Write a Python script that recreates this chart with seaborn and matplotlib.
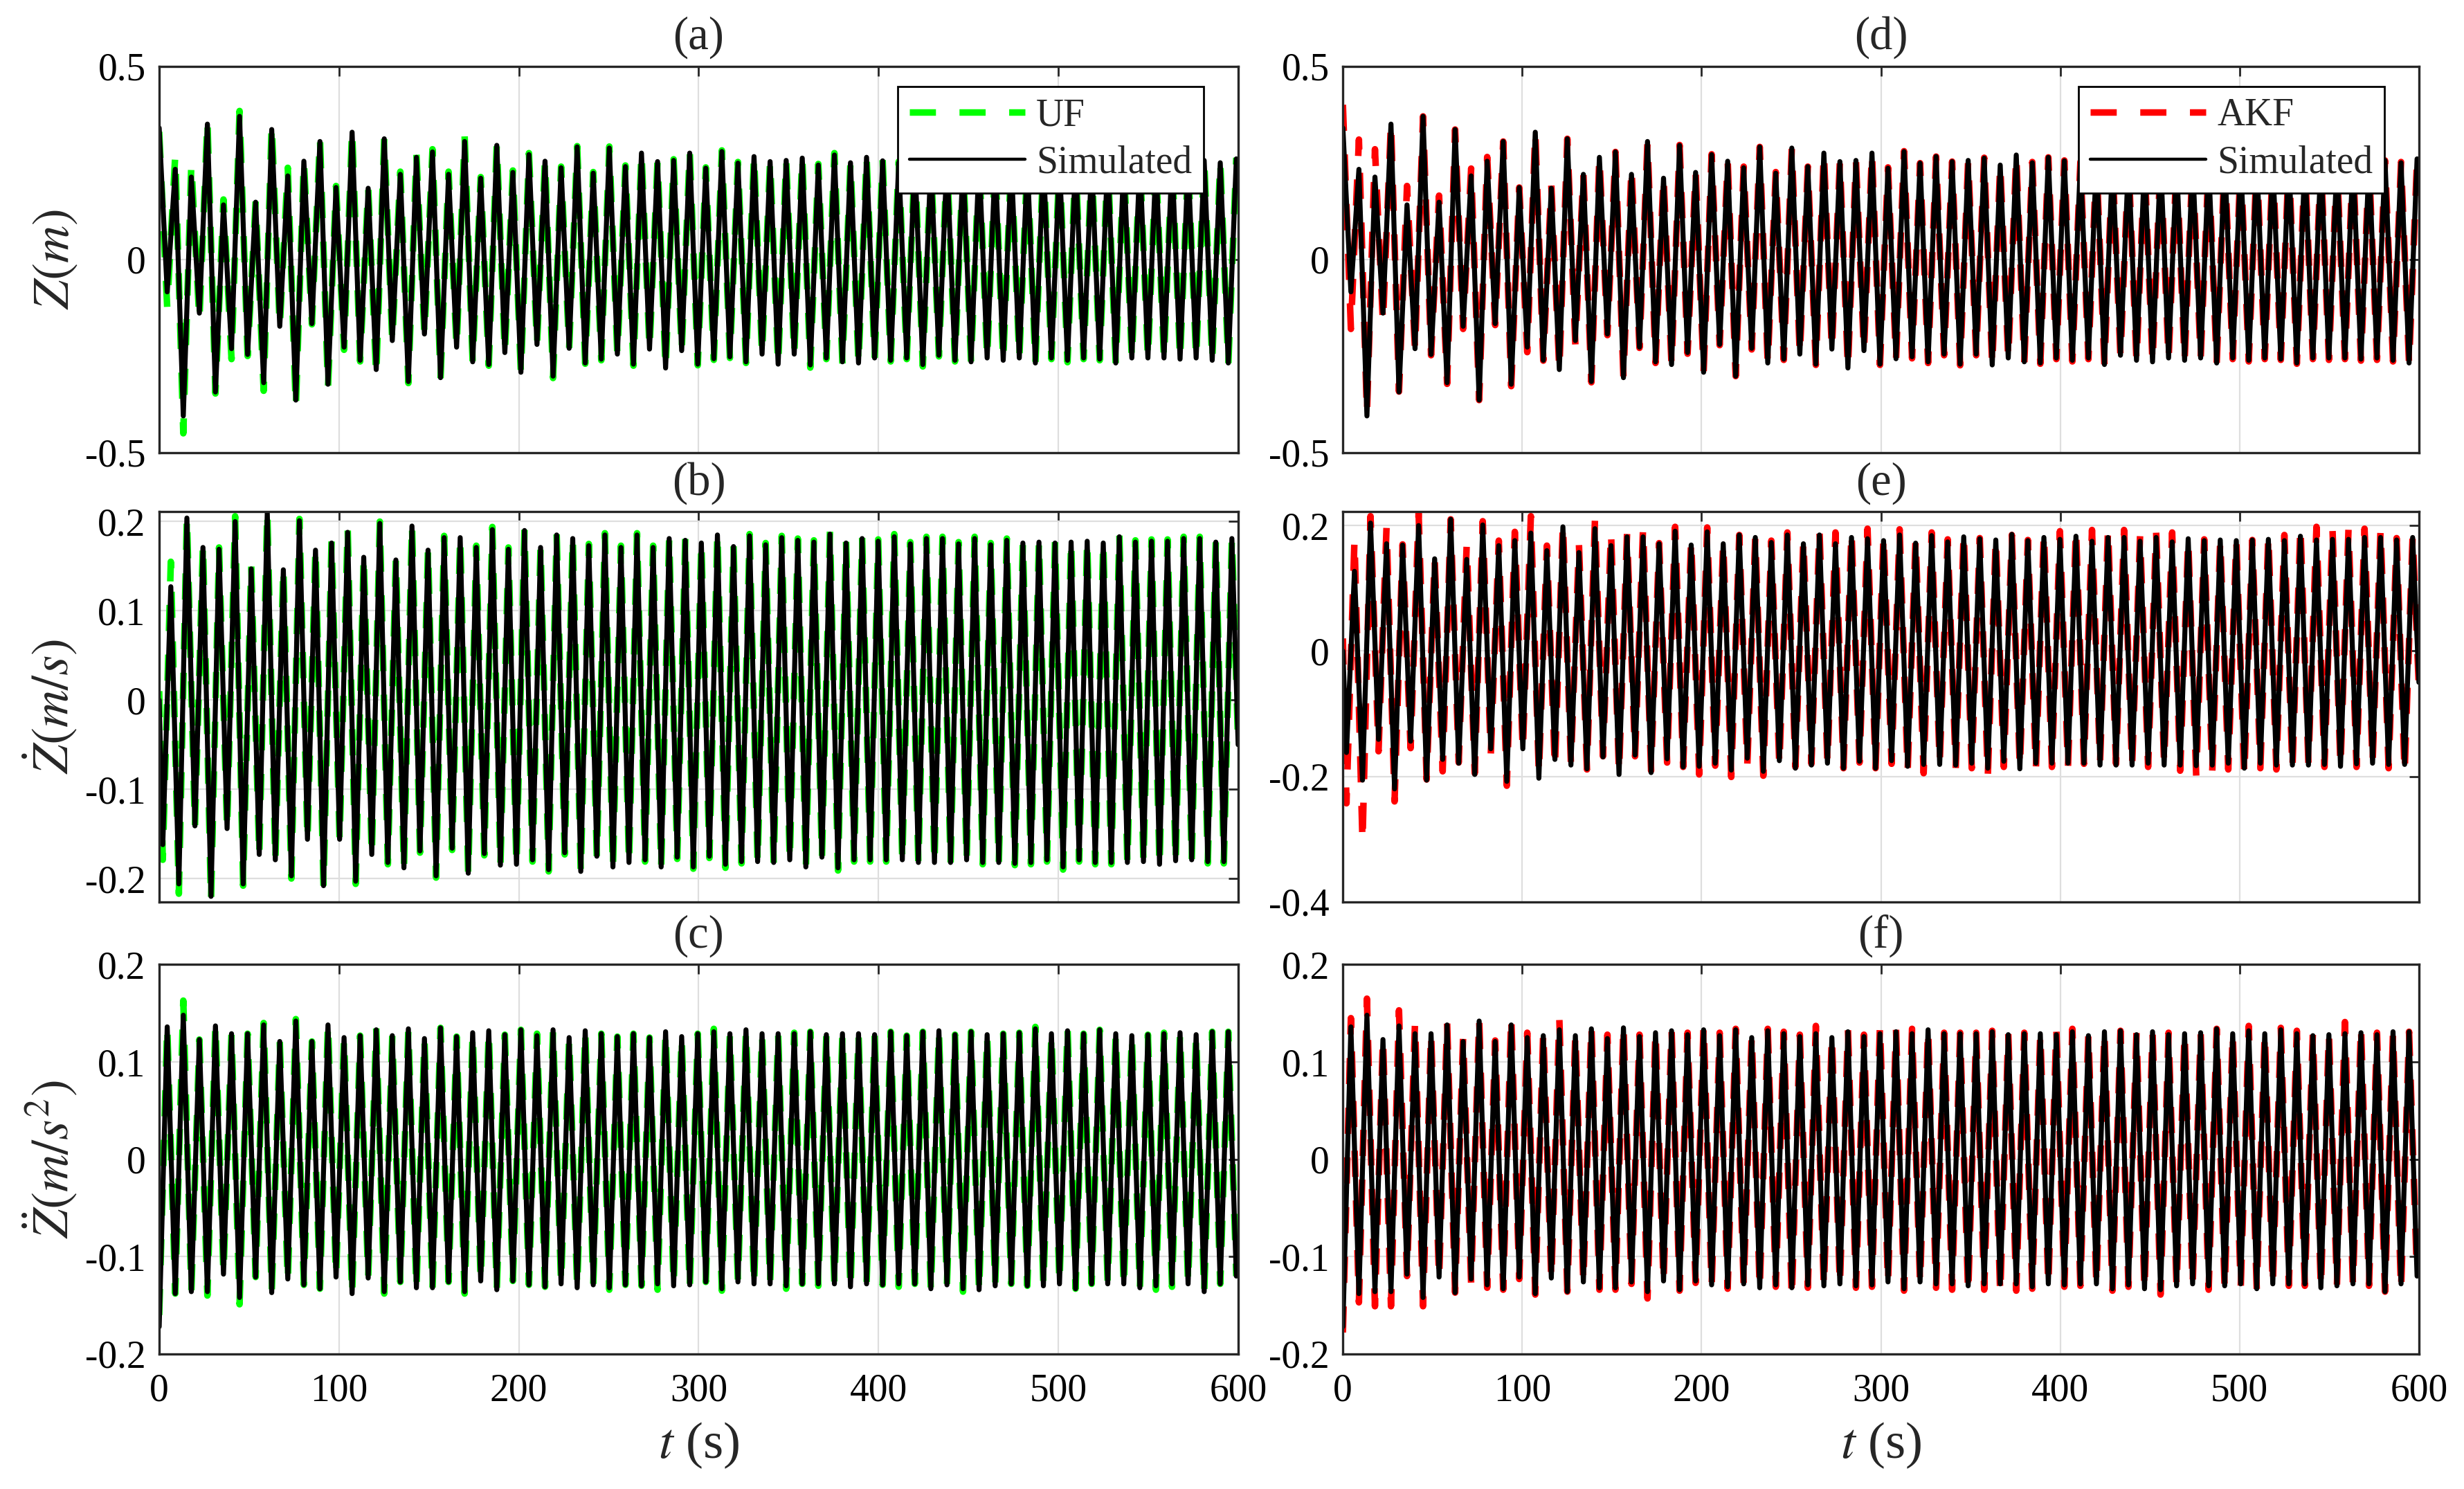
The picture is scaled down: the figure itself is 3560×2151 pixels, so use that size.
import numpy as np
import matplotlib
matplotlib.use("Agg")
import matplotlib.pyplot as plt
from matplotlib.lines import Line2D
from matplotlib.ticker import FuncFormatter
import seaborn as sns

sns.set_style("white")
plt.rcParams["font.family"] = ["Liberation Serif", "DejaVu Serif"]
plt.rcParams["mathtext.fontset"] = "stix"
plt.rcParams["axes.unicode_minus"] = False

# half period of the heave response (s); values below are the successive
# peaks / troughs
HALF = 4.47
VEL_FIRST = 2.0   # time of the first velocity extremum
T_END = 600.0

# heave displacement Z (m), extrema from t = 0
z_sim = [
    0.34, -0.084, 0.233, -0.405, 0.213, -0.139, 0.35, -0.343, 0.141, -0.231,
    0.37, -0.246, 0.148, -0.319, 0.336, -0.173, 0.216, -0.364, 0.254, -0.166,
    0.305, -0.323, 0.186, -0.227, 0.329, -0.261, 0.184, -0.285, 0.312, -0.21,
    0.22, -0.316, 0.264, -0.193, 0.278, -0.306, 0.22, -0.227, 0.305, -0.265,
    0.21, -0.272, 0.295, -0.241, 0.225, -0.292, 0.271, -0.22, 0.254, -0.302,
    0.237, -0.23, 0.291, -0.268, 0.223, -0.258, 0.288, -0.245, 0.24, -0.271,
    0.275, -0.232, 0.253, -0.281, 0.256, -0.236, 0.275, -0.271, 0.236, -0.257,
    0.279, -0.252, 0.249, -0.265, 0.266, -0.245, 0.253, -0.271, 0.256, -0.245,
    0.262, -0.273, 0.244, -0.255, 0.27, -0.265, 0.25, -0.268, 0.264, -0.255,
    0.255, -0.261, 0.25, -0.255, 0.26, -0.272, 0.252, -0.248, 0.258, -0.261,
    0.25, -0.265, 0.26, -0.255, 0.252, -0.261, 0.256, -0.255, 0.25, -0.268,
    0.26, -0.255, 0.252, -0.261, 0.256, -0.255, 0.25, -0.258, 0.26, -0.268,
    0.252, -0.255, 0.256, -0.255, 0.25, -0.255, 0.258, -0.258, 0.25, -0.255,
    0.256, -0.261, 0.25, -0.268, 0.26,
]
z_uf = [
    0.33, -0.125, 0.27, -0.45, 0.247, -0.159, 0.36, -0.347, 0.155, -0.258,
    0.384, -0.25, 0.15, -0.34, 0.35, -0.176, 0.237, -0.384, 0.256, -0.168,
    0.315, -0.333, 0.19, -0.234, 0.336, -0.264, 0.187, -0.302, 0.315, -0.213,
    0.227, -0.32, 0.274, -0.196, 0.285, -0.308, 0.227, -0.23, 0.319, -0.268,
    0.213, -0.275, 0.3, -0.244, 0.23, -0.295, 0.275, -0.222, 0.258, -0.307,
    0.24, -0.232, 0.293, -0.27, 0.226, -0.261, 0.292, -0.248, 0.243, -0.275,
    0.278, -0.234, 0.256, -0.284, 0.259, -0.238, 0.282, -0.274, 0.238, -0.26,
    0.282, -0.255, 0.252, -0.268, 0.269, -0.248, 0.256, -0.274, 0.259, -0.248,
    0.265, -0.28, 0.247, -0.258, 0.275, -0.27, 0.253, -0.272, 0.267, -0.258,
    0.258, -0.264, 0.253, -0.258, 0.263, -0.277, 0.255, -0.251, 0.261, -0.264,
    0.253, -0.268, 0.263, -0.258, 0.255, -0.264, 0.259, -0.258, 0.253, -0.272,
    0.263, -0.258, 0.255, -0.266, 0.259, -0.258, 0.253, -0.261, 0.263, -0.272,
    0.255, -0.258, 0.259, -0.258, 0.253, -0.258, 0.261, -0.261, 0.253, -0.258,
    0.259, -0.264, 0.253, -0.273, 0.263,
]
z_akf = [
    0.40, -0.18, 0.31, -0.40, 0.285, -0.165, 0.355, -0.342, 0.19, -0.235,
    0.37, -0.248, 0.165, -0.322, 0.336, -0.18, 0.235, -0.364, 0.265, -0.17,
    0.305, -0.328, 0.186, -0.24, 0.33, -0.262, 0.192, -0.287, 0.312, -0.22,
    0.222, -0.318, 0.266, -0.196, 0.278, -0.306, 0.238, -0.229, 0.305, -0.268,
    0.215, -0.274, 0.296, -0.244, 0.228, -0.292, 0.272, -0.222, 0.256, -0.302,
    0.24, -0.233, 0.291, -0.27, 0.226, -0.26, 0.288, -0.248, 0.24, -0.273,
    0.276, -0.235, 0.255, -0.283, 0.256, -0.239, 0.276, -0.273, 0.238, -0.26,
    0.28, -0.256, 0.249, -0.268, 0.266, -0.248, 0.253, -0.274, 0.257, -0.248,
    0.263, -0.276, 0.246, -0.258, 0.27, -0.268, 0.252, -0.27, 0.264, -0.258,
    0.256, -0.264, 0.252, -0.258, 0.26, -0.274, 0.254, -0.252, 0.258, -0.264,
    0.252, -0.268, 0.26, -0.26, 0.254, -0.264, 0.256, -0.258, 0.252, -0.27,
    0.26, -0.258, 0.254, -0.264, 0.256, -0.258, 0.252, -0.26, 0.26, -0.27,
    0.254, -0.258, 0.256, -0.26, 0.252, -0.258, 0.258, -0.262, 0.252, -0.26,
    0.256, -0.264, 0.252, -0.272, 0.26,
]

# heave velocity (m/s): value at t = 0, extrema from VEL_FIRST, value at 600 s
v_sim = [
    0.0,
    -0.162, 0.127, -0.206, 0.204, -0.141, 0.171, -0.22, 0.169, -0.144, 0.2,
    -0.206, 0.147, -0.173, 0.21, -0.179, 0.146, -0.197, 0.201, -0.156, 0.168,
    -0.208, 0.176, -0.156, 0.188, -0.203, 0.16, -0.173, 0.198, -0.182, 0.157,
    -0.188, 0.195, -0.169, 0.168, -0.197, 0.182, -0.166, 0.182, -0.194, 0.171,
    -0.172, 0.191, -0.185, 0.169, -0.184, 0.19, -0.179, 0.171, -0.19, 0.185,
    -0.171, 0.181, -0.192, 0.173, -0.175, 0.185, -0.187, 0.171, -0.182, 0.185,
    -0.179, 0.171, -0.187, 0.181, -0.176, 0.179, -0.187, 0.176,
    -0.175, 0.185, -0.184, 0.172, -0.181, 0.184, -0.181, 0.174, -0.182, 0.182,
    -0.179, 0.179, -0.187, 0.177, -0.176, 0.186, -0.188, 0.176, -0.179, 0.181,
    -0.179, 0.178, -0.179, 0.183, -0.179, 0.175, -0.182, 0.181, -0.182, 0.181,
    -0.182, 0.175, -0.179, 0.181, -0.182, 0.174, -0.182, 0.179, -0.183, 0.176,
    -0.182, 0.177, -0.179, 0.176, -0.187, 0.177, -0.179, 0.178, -0.182, 0.176,
    -0.182, 0.183, -0.182, 0.177, -0.181, 0.178, -0.184, 0.178, -0.18, 0.181,
    -0.179, 0.181, -0.181, 0.177, -0.181, 0.181,
    -0.05,
]
v_uf = [
    0.01,
    -0.179, 0.155, -0.217, 0.206, -0.143, 0.176, -0.226, 0.171, -0.146, 0.206,
    -0.208, 0.152, -0.176, 0.212, -0.181, 0.149, -0.2, 0.203, -0.158, 0.171,
    -0.21, 0.179, -0.158, 0.194, -0.206, 0.162, -0.175, 0.2, -0.184, 0.16,
    -0.19, 0.198, -0.171, 0.17, -0.199, 0.184, -0.168, 0.184, -0.196, 0.173,
    -0.174, 0.194, -0.187, 0.171, -0.186, 0.192, -0.181, 0.173, -0.192, 0.187,
    -0.173, 0.183, -0.194, 0.175, -0.177, 0.187, -0.189, 0.173, -0.184, 0.187,
    -0.181, 0.173, -0.189, 0.183, -0.178, 0.181, -0.189, 0.178,
    -0.177, 0.188, -0.188, 0.174, -0.183, 0.186, -0.183, 0.176, -0.184, 0.184,
    -0.181, 0.181, -0.19, 0.179, -0.178, 0.189, -0.191, 0.178, -0.181, 0.183,
    -0.181, 0.18, -0.181, 0.186, -0.181, 0.177, -0.184, 0.183, -0.184, 0.183,
    -0.184, 0.177, -0.181, 0.183, -0.184, 0.176, -0.184, 0.181, -0.185, 0.178,
    -0.184, 0.179, -0.181, 0.178, -0.19, 0.179, -0.181, 0.18, -0.184, 0.178,
    -0.184, 0.187, -0.184, 0.179, -0.183, 0.18, -0.187, 0.18, -0.182, 0.183,
    -0.181, 0.183, -0.183, 0.179, -0.183, 0.183,
    -0.05,
]
v_akf = [
    0.02,
    -0.243, 0.178, -0.305, 0.215, -0.16, 0.198, -0.24, 0.17, -0.155, 0.22,
    -0.205, 0.148, -0.192, 0.21, -0.178, 0.17, -0.195, 0.207, -0.166, 0.176,
    -0.215, 0.19, -0.16, 0.215, -0.197, 0.168, -0.187, 0.204, -0.18, 0.17,
    -0.189, 0.21, -0.168, 0.19, -0.195, 0.187, -0.168, 0.197, -0.191, 0.172,
    -0.178, 0.198, -0.185, 0.178, -0.197, 0.197, -0.183, 0.174, -0.201, 0.185,
    -0.183, 0.183, -0.199, 0.176, -0.183, 0.189, -0.185, 0.178, -0.18, 0.194,
    -0.18, 0.189, -0.187, 0.191, -0.178, 0.195, -0.187, 0.185, -0.18, 0.194,
    -0.193, 0.18, -0.195, 0.189, -0.18, 0.178, -0.187, 0.189, -0.187, 0.18,
    -0.201, 0.18, -0.185, 0.185, -0.187, 0.177, -0.189, 0.189, -0.185, 0.191,
    -0.187, 0.195, -0.18, 0.193, -0.18, 0.195, -0.18, 0.193, -0.185, 0.185,
    -0.185, 0.191, -0.18, 0.189, -0.191, 0.178, -0.199, 0.178, -0.193, 0.178,
    -0.189, 0.177, -0.199, 0.177, -0.187, 0.185, -0.189, 0.185, -0.189, 0.199,
    -0.18, 0.198, -0.185, 0.195, -0.185, 0.195, -0.185, 0.195, -0.18, 0.195,
    -0.187, 0.18, -0.195, 0.185,
    -0.06,
]

# heave acceleration (m/s^2), extrema from t = 0
a_sim = [
    -0.172, 0.136, -0.138, 0.148, -0.136, 0.123, -0.136, 0.137, -0.118, 0.129,
    -0.142, 0.129, -0.121, 0.138, -0.137, 0.121, -0.123, 0.142, -0.129, 0.121,
    -0.133, 0.138, -0.121, 0.125, -0.138, 0.127, -0.122, 0.133, -0.136, 0.127,
    -0.126, 0.134, -0.132, 0.124, -0.132, 0.135, -0.126, 0.126, -0.136, 0.13,
    -0.125, 0.132, -0.134, 0.128, -0.125, 0.133, -0.129, 0.127, -0.131, 0.133,
    -0.128, 0.125, -0.132, 0.132, -0.129, 0.129, -0.132, 0.126, -0.129, 0.129,
    -0.13, 0.125, -0.128, 0.131, -0.13, 0.126, -0.129, 0.129,
    -0.126, 0.131, -0.133, 0.129, -0.126, 0.133, -0.128, 0.129, -0.128, 0.129,
    -0.13, 0.129, -0.128, 0.131, -0.128, 0.128, -0.128, 0.129, -0.131, 0.129,
    -0.128, 0.128, -0.129, 0.131, -0.128, 0.127, -0.128, 0.131, -0.133, 0.132,
    -0.129, 0.128, -0.133, 0.131, -0.134, 0.128, -0.13, 0.129, -0.128, 0.13,
    -0.13, 0.134, -0.13, 0.129, -0.128, 0.132, -0.133, 0.129, -0.128, 0.133,
    -0.128, 0.129, -0.128, 0.127, -0.132, 0.128, -0.13, 0.129, -0.128, 0.13,
    -0.128, 0.128, -0.136, 0.131, -0.128, 0.131, -0.12,
]
a_uf = [
    -0.16, 0.137, -0.138, 0.163, -0.136, 0.123, -0.14, 0.139, -0.118, 0.13,
    -0.149, 0.129, -0.121, 0.14, -0.137, 0.121, -0.126, 0.144, -0.129, 0.121,
    -0.133, 0.14, -0.121, 0.125, -0.14, 0.127, -0.122, 0.135, -0.138, 0.127,
    -0.126, 0.134, -0.134, 0.124, -0.134, 0.135, -0.126, 0.126, -0.138, 0.13,
    -0.125, 0.132, -0.134, 0.128, -0.125, 0.133, -0.129, 0.129, -0.131, 0.133,
    -0.128, 0.125, -0.132, 0.132, -0.129, 0.129, -0.134, 0.126, -0.129, 0.129,
    -0.13, 0.125, -0.134, 0.131, -0.13, 0.126, -0.133, 0.129,
    -0.126, 0.134, -0.135, 0.129, -0.126, 0.133, -0.13, 0.129, -0.128, 0.129,
    -0.133, 0.13, -0.128, 0.131, -0.13, 0.128, -0.128, 0.129, -0.134, 0.129,
    -0.128, 0.128, -0.129, 0.131, -0.131, 0.127, -0.128, 0.131, -0.136, 0.132,
    -0.129, 0.128, -0.136, 0.131, -0.137, 0.128, -0.13, 0.129, -0.128, 0.13,
    -0.13, 0.136, -0.13, 0.129, -0.128, 0.136, -0.133, 0.129, -0.128, 0.133,
    -0.128, 0.129, -0.132, 0.127, -0.134, 0.128, -0.134, 0.13, -0.131, 0.13,
    -0.128, 0.128, -0.138, 0.131, -0.128, 0.131, -0.12,
]
a_akf = [
    -0.178, 0.145, -0.147, 0.165, -0.151, 0.125, -0.151, 0.153, -0.12, 0.141,
    -0.151, 0.13, -0.123, 0.141, -0.137, 0.126, -0.128, 0.145, -0.132, 0.122,
    -0.134, 0.147, -0.123, 0.13, -0.139, 0.132, -0.124, 0.145, -0.136, 0.129,
    -0.127, 0.138, -0.134, 0.128, -0.134, 0.138, -0.128, 0.128, -0.143, 0.132,
    -0.127, 0.134, -0.135, 0.13, -0.127, 0.138, -0.131, 0.13, -0.133, 0.134,
    -0.13, 0.128, -0.134, 0.134, -0.131, 0.131, -0.143, 0.128, -0.132, 0.137,
    -0.132, 0.127, -0.13, 0.134, -0.132, 0.128, -0.131, 0.138, -0.128, 0.134,
    -0.135, 0.134, -0.128, 0.134, -0.132, 0.13, -0.134, 0.13, -0.138, 0.13,
    -0.134, 0.132, -0.139, 0.13, -0.135, 0.13, -0.133, 0.13, -0.13, 0.134,
    -0.131, 0.134, -0.13, 0.13, -0.13, 0.131, -0.135, 0.132, -0.131, 0.13,
    -0.135, 0.131, -0.139, 0.13, -0.132, 0.13, -0.13, 0.13, -0.134, 0.134,
    -0.134, 0.13, -0.132, 0.137, -0.134, 0.13, -0.13, 0.135, -0.13, 0.132,
    -0.13, 0.13, -0.133, 0.13, -0.13, 0.141, -0.13, 0.137, -0.13, 0.13,
    -0.136, 0.131, -0.135, 0.131, -0.122,
]


def ext_times(vals):
    # extrema sit every half period starting at t = 0
    return HALF * np.arange(len(vals))


def vel_times(vals):
    return np.r_[0.0, VEL_FIRST + HALF * np.arange(len(vals) - 2), T_END]


rows = [
    dict(est=(z_uf, z_akf), sim=z_sim, tfun=ext_times, ylim=(-0.5, 0.5),
         yticks=[-0.5, 0, 0.5], ylim_r=(-0.5, 0.5), yticks_r=[-0.5, 0, 0.5],
         ylabel=r"$Z(m)$", titles=("(a)", "(d)")),
    dict(est=(v_uf, v_akf), sim=v_sim, tfun=vel_times, ylim=(-0.226, 0.211),
         yticks=[-0.2, -0.1, 0, 0.1, 0.2], ylim_r=(-0.4, 0.222),
         yticks_r=[-0.4, -0.2, 0, 0.2],
         ylabel=r"$\dot{Z}(m/s)$", titles=("(b)", "(e)")),
    dict(est=(a_uf, a_akf), sim=a_sim, tfun=ext_times, ylim=(-0.2, 0.2),
         yticks=[-0.2, -0.1, 0, 0.1, 0.2], ylim_r=(-0.2, 0.2),
         yticks_r=[-0.2, -0.1, 0, 0.1, 0.2],
         ylabel=r"$\ddot{Z}(m/s^2)$", titles=("(c)", "(f)")),
]

est_names = ("UF", "AKF")
est_colors = ("#00ff00", "#ff0000")

fig = plt.figure(figsize=(17.8, 10.755), dpi=200)

col_x = [(0.0646, 0.4379), (0.545, 0.4367)]
row_y = [(0.696, 0.2596), (0.3944, 0.2619), (0.0907, 0.2615)]

fmt = FuncFormatter(lambda v, _: f"{v:g}")

for r, row in enumerate(rows):
    for c in range(2):
        x0, w = col_x[c]
        y0, h = row_y[r]
        ax = fig.add_axes([x0, y0, w, h])
        est = row["est"][c]
        sim = row["sim"]
        sns.lineplot(x=row["tfun"](est), y=est, ax=ax, color=est_colors[c],
                     lw=3.4, linestyle=(0, (4.0, 3.6)), estimator=None,
                     sort=False, legend=False)
        sns.lineplot(x=row["tfun"](sim), y=sim, ax=ax, color="black",
                     lw=2.6, estimator=None, sort=False, legend=False)

        ax.set_xlim(0, 600)
        if c == 0:
            ax.set_ylim(*row["ylim"])
            ax.set_yticks(row["yticks"])
            ax.set_ylabel(row["ylabel"], fontsize=27, labelpad=3)
        else:
            ax.set_ylim(*row["ylim_r"])
            ax.set_yticks(row["yticks_r"])
            ax.set_ylabel("")
        ax.set_xticks(range(0, 700, 100))
        ax.yaxis.set_major_formatter(fmt)
        ax.grid(True, color="#dedede", lw=0.8)
        ax.set_axisbelow(True)
        ax.tick_params(direction="in", top=True, right=True, length=5,
                       width=1.0, labelsize=20, colors="#262626")
        ax.tick_params(axis="y", pad=7)
        ax.tick_params(axis="x", pad=10)
        ax.tick_params(labelcolor="black")
        for sp in ax.spines.values():
            sp.set_color("#262626")
            sp.set_linewidth(1.2)
        ax.set_title(row["titles"][c], fontsize=24, pad=9)
        if r < 2:
            ax.tick_params(labelbottom=False)
            ax.set_xlabel("")
        else:
            ax.set_xlabel(r"$t$ (s)", fontsize=27, labelpad=6)
        if r == 0:
            handles = [
                Line2D([], [], color=est_colors[c], lw=3.4,
                       linestyle=(0, (4.0, 3.6))),
                Line2D([], [], color="black", lw=1.6),
            ]
            leg = ax.legend(handles, [est_names[c], "Simulated"],
                            loc="upper right", bbox_to_anchor=(0.968, 0.948),
                            fontsize=20, handlelength=3.0, handletextpad=0.3,
                            labelspacing=0.3, borderpad=0.3, borderaxespad=0,
                            fancybox=False, framealpha=1, edgecolor="black")
            leg.get_frame().set_linewidth(1.0)

fig.savefig("out.png", dpi=200, facecolor="white")
